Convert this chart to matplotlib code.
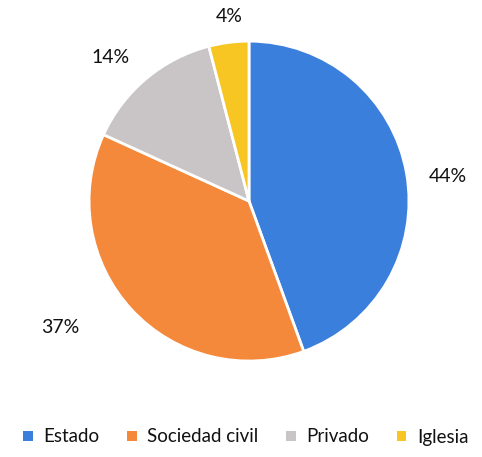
import numpy as np
import matplotlib
matplotlib.use("Agg")
import matplotlib.pyplot as plt
from matplotlib.patches import Patch

categories = ["Estado", "Sociedad civil", "Privado", "Iglesia"]
values = [44, 37, 14, 4]
labels = ["44%", "37%", "14%", "4%"]
colors = ["#3b7fdc", "#f5893b", "#c9c5c7", "#f7c623"]

# per-label placement tweaks (distance in radii, angle offset in degrees)
label_dist = [1.25, 1.42, 1.25, 1.16]
label_dang = [-3, -9, 4, -1]

plt.rcParams['font.family'] = ['Lato', 'DejaVu Sans']
fig = plt.figure(figsize=(4.82, 4.57), dpi=100)
ax = fig.add_axes([0.1846, 0.210, 0.664, 0.700])
wedges, _ = ax.pie(values, colors=colors, startangle=90, counterclock=False,
                   wedgeprops=dict(edgecolor="white", linewidth=2))
ax.set_xlim(-1, 1)
ax.set_ylim(-1, 1)
ax.set_aspect('equal')

for w, lab, d, da in zip(wedges, labels, label_dist, label_dang):
    mid = np.deg2rad((w.theta1 + w.theta2) / 2 + da)
    ax.text(d * np.cos(mid), d * np.sin(mid), lab, ha='center', va='center',
            fontsize=14, color='#111111', clip_on=False)

handles = [Patch(facecolor=c, edgecolor='none') for c in colors]
fig.legend(handles, categories, loc='center', bbox_to_anchor=(0.51, 1 - 437 / 457),
           ncol=4, frameon=False, fontsize=13.5, handlelength=0.5, handleheight=0.5,
           handletextpad=0.55, columnspacing=1.5, borderaxespad=0,
           labelcolor='#111111')

fig.savefig("out.png", dpi=100, facecolor='white')
